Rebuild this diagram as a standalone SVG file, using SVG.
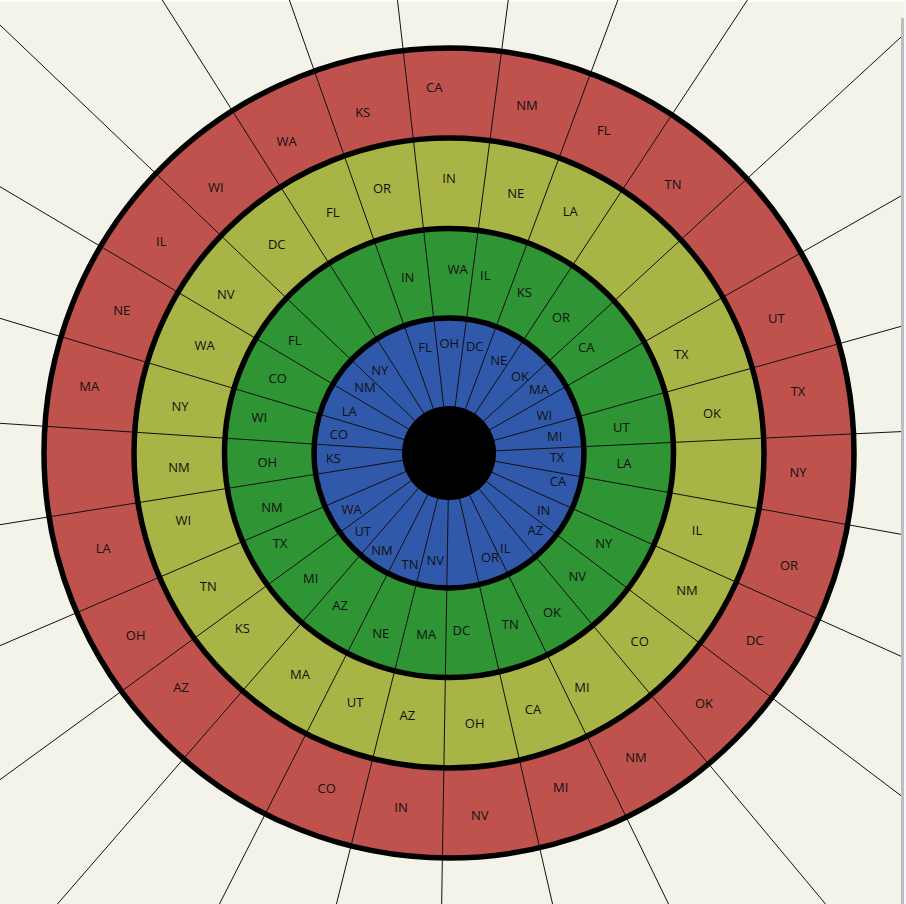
<svg xmlns="http://www.w3.org/2000/svg" width="906" height="904" viewBox="0 0 906 904">
<style>
.ln{stroke:#111;stroke-width:1;fill:none}
.rim{fill:none;stroke:#000;stroke-width:5.5}
.t{font-family:"Open Sans","Liberation Sans",sans-serif;font-size:13px;fill:#111;text-anchor:middle}
</style>
<rect width="906" height="904" fill="#F4F3E9"/>
<rect width="906" height="2" fill="#FBFBF8"/>
<g id="rings">
<circle id="ring-red" cx="449" cy="453" r="405" fill="#C0524D"/>
<circle id="ring-yellow" cx="449" cy="453" r="315" fill="#A8B446"/>
<circle id="ring-green" cx="449" cy="453" r="224.5" fill="#2E9434"/>
<circle id="ring-blue" cx="449" cy="453" r="135" fill="#3059AB"/>
</g>
<g id="connectors">
<path class="ln" d="M449 453L395.1 -20.9M449 453L282 -20.9M449 453L149 -20.9M449 453L-22.5 3.6M449 453L-22.5 173.4M449 453L-22.5 311.6M449 453L-22.5 421.8M449 453L511 -20.9M449 453L625.7 -20.9M449 453L761.2 -20.9M449 453L922.2 17.6M449 453L922.2 183.9M449 453L922.2 320.4M449 453L922.2 430.6M449 453L922.2 538.1M449 453L922.2 665.8M449 453L922.2 811.8M449 453L843.5 925.5M449 453L679 925.5M449 453L557.5 925.5M449 453L441.3 925.5M449 453L331.1 925.5M449 453L208.5 925.5M449 453L38.8 925.5M449 453L-22.5 796M449 453L-22.5 655.3M449 453L-22.5 528.3"/>
</g>
<g id="rims">
<circle class="rim" cx="449" cy="453" r="405"/>
<circle class="rim" cx="449" cy="453" r="315"/>
<circle class="rim" cx="449" cy="453" r="224.5"/>
<circle class="rim" cx="449" cy="453" r="135"/>
<circle id="hub" cx="449" cy="453" r="47" fill="#000"/>
</g>
<g id="labels-red" class="t">
<text x="434.3" y="92.3">CA</text>
<text x="527" y="109.9">NM</text>
<text x="603.7" y="135.3">FL</text>
<text x="673" y="188.9">TN</text>
<text x="776.3" y="322.9">UT</text>
<text x="798" y="396.3">TX</text>
<text x="798" y="476.9">NY</text>
<text x="789" y="569.9">OR</text>
<text x="754.7" y="644.9">DC</text>
<text x="704" y="707.6">OK</text>
<text x="636" y="761.9">NM</text>
<text x="560.7" y="791.9">MI</text>
<text x="479.7" y="819.9">NV</text>
<text x="401" y="811.9">IN</text>
<text x="326.7" y="793.3">CO</text>
<text x="181" y="691.9">AZ</text>
<text x="135.7" y="639.9">OH</text>
<text x="103.3" y="553.3">LA</text>
<text x="89.3" y="391.3">MA</text>
<text x="121.7" y="315.3">NE</text>
<text x="161.3" y="246.3">IL</text>
<text x="215.7" y="192.3">WI</text>
<text x="286.7" y="146.3">WA</text>
<text x="362.7" y="117.3">KS</text>
</g>
<g id="labels-yellow" class="t">
<text x="449" y="182.6">IN</text>
<text x="515.7" y="197.9">NE</text>
<text x="570.3" y="216.3">LA</text>
<text x="681.3" y="358.9">TX</text>
<text x="712" y="417.9">OK</text>
<text x="697" y="535.3">IL</text>
<text x="687" y="594.9">NM</text>
<text x="639.7" y="646.3">CO</text>
<text x="582" y="691.9">MI</text>
<text x="533" y="713.6">CA</text>
<text x="474.7" y="728.3">OH</text>
<text x="407.3" y="719.9">AZ</text>
<text x="355" y="706.9">UT</text>
<text x="300" y="679.3">MA</text>
<text x="242.3" y="632.6">KS</text>
<text x="208.3" y="590.9">TN</text>
<text x="183.3" y="525.3">WI</text>
<text x="179" y="471.9">NM</text>
<text x="180" y="411.3">NY</text>
<text x="204.7" y="350.3">WA</text>
<text x="225.7" y="298.9">NV</text>
<text x="276.7" y="248.6">DC</text>
<text x="332.7" y="217.3">FL</text>
<text x="382" y="193.3">OR</text>
</g>
<g id="labels-green" class="t">
<text x="457.5" y="274.1">WA</text>
<text x="485.3" y="279.9">IL</text>
<text x="524.3" y="297.3">KS</text>
<text x="561" y="322.3">OR</text>
<text x="586.3" y="352.3">CA</text>
<text x="621.3" y="431.9">UT</text>
<text x="624" y="468.3">LA</text>
<text x="603.7" y="548.3">NY</text>
<text x="577.3" y="580.9">NV</text>
<text x="552" y="616.9">OK</text>
<text x="510.3" y="629.3">TN</text>
<text x="461.3" y="634.9">DC</text>
<text x="426.3" y="639.3">MA</text>
<text x="380.7" y="638.3">NE</text>
<text x="340" y="609.9">AZ</text>
<text x="310.7" y="583.3">MI</text>
<text x="280" y="547.6">TX</text>
<text x="272" y="511.9">NM</text>
<text x="267.3" y="466.9">OH</text>
<text x="259.3" y="421.9">WI</text>
<text x="277.7" y="383.3">CO</text>
<text x="294.7" y="345.3">FL</text>
<text x="407.7" y="281.9">IN</text>
</g>
<g id="labels-blue" class="t">
<text x="449.3" y="347.9">OH</text>
<text x="474.7" y="351.3">DC</text>
<text x="498.7" y="364.6">NE</text>
<text x="520" y="381.3">OK</text>
<text x="539" y="393.9">MA</text>
<text x="544.3" y="420.3">WI</text>
<text x="554.7" y="441.3">MI</text>
<text x="557" y="462.3">TX</text>
<text x="558" y="486.3">CA</text>
<text x="543.7" y="515.3">IN</text>
<text x="535.3" y="535.3">AZ</text>
<text x="505.3" y="552.9">IL</text>
<text x="490" y="561.9">OR</text>
<text x="435.3" y="565.3">NV</text>
<text x="410" y="568.9">TN</text>
<text x="382" y="555.3">NM</text>
<text x="362.7" y="535.9">UT</text>
<text x="351.7" y="513.6">WA</text>
<text x="333.3" y="463.3">KS</text>
<text x="339" y="439.3">CO</text>
<text x="349.3" y="415.6">LA</text>
<text x="365" y="392.3">NM</text>
<text x="379.7" y="375.3">NY</text>
<text x="425" y="352.3">FL</text>
</g>
<rect x="901" y="18" width="3" height="886" fill="#B9BDC1"/>
<rect x="904" y="0" width="2" height="904" fill="#F7F7F7"/>
</svg>
